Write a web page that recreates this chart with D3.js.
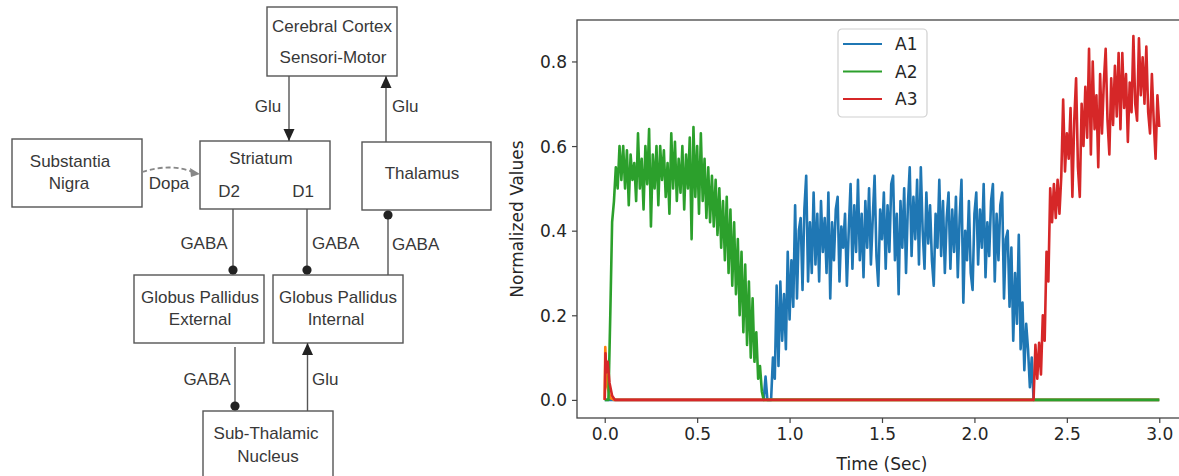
<!DOCTYPE html>
<html>
<head>
<meta charset="utf-8">
<script src="https://cdn.jsdelivr.net/npm/d3@7"></script>
<style>
  body { margin: 0; background: #fff; }
  svg { display: block; }
  .diag text { font-family: "Liberation Sans", Arial, sans-serif; font-size: 17px; fill: #383838; }
  .chart text { font-family: "DejaVu Sans", sans-serif; font-size: 17px; fill: #262626; }
</style>
</head>
<body>
<svg id="fig" width="1179" height="476"></svg>
<script>
// ---- chart data ----
var seriesNames = ['A1', 'A2', 'A3'];
var timeStep = 0.01;
var xTicks = [0, 0.5, 1.0, 1.5, 2.0, 2.5, 3.0];
var yTicks = [0, 0.2, 0.4, 0.6, 0.8];

// A1 (blue): quiet until ~0.9 s, noisy plateau, back to zero at ~2.32 s
var a1Lead = [[0, 0], [0.86, 0], [0.87, 0.055], [0.88, 0], [0.90, 0]];
var a1Start = 0.91;
var a1Values = [
  0.10, 0.05, 0.27, 0.08, 0.28, 0.14, 0.25, 0.12, 0.35, 0.19,
  0.33, 0.22, 0.46, 0.24, 0.40, 0.43, 0.26, 0.45, 0.53, 0.28,
  0.42, 0.30, 0.49, 0.32, 0.44, 0.28, 0.47, 0.35, 0.43, 0.30,
  0.49, 0.24, 0.42, 0.33, 0.45, 0.48, 0.28, 0.41, 0.36, 0.44,
  0.27, 0.40, 0.51, 0.31, 0.46, 0.35, 0.52, 0.33, 0.44, 0.29,
  0.47, 0.36, 0.50, 0.32, 0.43, 0.53, 0.34, 0.27, 0.45, 0.38,
  0.49, 0.31, 0.46, 0.35, 0.51, 0.53, 0.33, 0.44, 0.25, 0.47,
  0.36, 0.50, 0.30, 0.46, 0.55, 0.34, 0.48, 0.38, 0.52, 0.32,
  0.55, 0.40, 0.31, 0.49, 0.37, 0.46, 0.33, 0.27, 0.44, 0.36,
  0.52, 0.34, 0.47, 0.30, 0.43, 0.49, 0.31, 0.45, 0.35, 0.48,
  0.29, 0.43, 0.52, 0.23, 0.40, 0.33, 0.47, 0.30, 0.26, 0.44,
  0.49, 0.32, 0.45, 0.36, 0.51, 0.29, 0.42, 0.34, 0.47, 0.51,
  0.28, 0.44, 0.33, 0.46, 0.49, 0.24, 0.38, 0.40, 0.22, 0.36,
  0.14, 0.30, 0.18, 0.39, 0.12, 0.23, 0.07, 0.18, 0.12, 0.03,
  0.10, 0.00
];
var a1Tail = [[2.33, 0], [3.0, 0]];

// A2 (green): fast rise, noisy plateau, decays to zero at ~0.86 s
var a2Lead = [[0, 0], [0.02, 0]];
var a2Start = 0.03;
var a2Values = [
  0.20, 0.42, 0.47, 0.55, 0.50, 0.60, 0.52, 0.60, 0.50, 0.59,
  0.46, 0.58, 0.52, 0.56, 0.47, 0.63, 0.50, 0.57, 0.45, 0.60,
  0.51, 0.64, 0.41, 0.58, 0.50, 0.60, 0.46, 0.60, 0.52, 0.59,
  0.48, 0.56, 0.44, 0.63, 0.50, 0.61, 0.47, 0.57, 0.49, 0.60,
  0.45, 0.58, 0.50, 0.62, 0.38, 0.645, 0.48, 0.60, 0.44, 0.63,
  0.47, 0.57, 0.43, 0.55, 0.42, 0.53, 0.41, 0.52, 0.39, 0.50,
  0.36, 0.47, 0.33, 0.48, 0.30, 0.45, 0.27, 0.42, 0.25, 0.38,
  0.20, 0.35, 0.16, 0.32, 0.13, 0.28, 0.10, 0.24, 0.09, 0.16,
  0.05, 0.08, 0.02, 0.00
];
var a2Tail = [[0.87, 0], [3.0, 0]];

// A3 (red): short spike at start, zero, then rises from ~2.33 s
var a3Lead = [[0, 0], [0.004, 0.11], [0.009, 0.065], [0.016, 0.09], [0.026, 0.04],
              [0.04, 0.01], [0.055, 0], [2.32, 0]];
var a3Start = 2.33;
var a3Values = [
  0.13, 0.05, 0.135, 0.06, 0.20, 0.14, 0.35, 0.28, 0.50, 0.42,
  0.51, 0.43, 0.52, 0.44, 0.53, 0.71, 0.54, 0.63, 0.57, 0.69,
  0.48, 0.66, 0.76, 0.55, 0.48, 0.70, 0.60, 0.74, 0.62, 0.83,
  0.58, 0.80, 0.64, 0.72, 0.55, 0.77, 0.63, 0.75, 0.83, 0.66,
  0.58, 0.76, 0.65, 0.79, 0.67, 0.82, 0.64, 0.82, 0.69, 0.77,
  0.61, 0.75, 0.68, 0.86, 0.70, 0.66, 0.855, 0.72, 0.81, 0.70,
  0.835, 0.68, 0.63, 0.77, 0.66, 0.57, 0.72, 0.645
];
var a3Tail = [];

// unlabeled orange trace, only a tiny spike at t=0
var extraTrace = [[0, 0], [0.003, 0.125], [0.008, 0.07], [0.015, 0.03], [0.03, 0.005], [0.05, 0], [3.0, 0]];

function buildSeries(lead, start, values, tail) {
  var pts = lead.slice();
  values.forEach(function (v, i) { pts.push([start + i * timeStep, v]); });
  return pts.concat(tail);
}

var a1 = buildSeries(a1Lead, a1Start, a1Values, a1Tail);
var a2 = buildSeries(a2Lead, a2Start, a2Values, a2Tail);
var a3 = buildSeries(a3Lead, a3Start, a3Values, a3Tail);

var svg = d3.select('#fig');

// ---------------- block diagram ----------------
var boxes = [
  { x: 267, y: 7,   w: 130, h: 69, lines: [['Cerebral Cortex', 332, 32], ['Sensori-Motor', 333, 63]] },
  { x: 12,  y: 139, w: 130, h: 68, lines: [['Substantia', 70, 167], ['Nigra', 69, 189]] },
  { x: 200, y: 141, w: 130, h: 68, lines: [['Striatum', 261, 164], ['D2', 229, 197], ['D1', 303, 197]] },
  { x: 362, y: 142, w: 129, h: 68, lines: [['Thalamus', 422, 179]] },
  { x: 134, y: 275, w: 130, h: 68, lines: [['Globus Pallidus', 200, 303], ['External', 200, 325]] },
  { x: 273, y: 275, w: 130, h: 68, lines: [['Globus Pallidus', 338, 303], ['Internal', 336, 325]] },
  { x: 203, y: 411, w: 130, h: 80, lines: [['Sub-Thalamic', 266, 439], ['Nucleus', 268, 462]] }
];

var diag = svg.append('g').attr('class', 'diag');

diag.selectAll('rect.box').data(boxes).enter().append('rect')
  .attr('class', 'box')
  .attr('x', function (d) { return d.x; })
  .attr('y', function (d) { return d.y; })
  .attr('width', function (d) { return d.w; })
  .attr('height', function (d) { return d.h; })
  .attr('fill', 'none')
  .attr('stroke', '#555')
  .attr('stroke-width', 1.4);

boxes.forEach(function (b) {
  b.lines.forEach(function (l) {
    diag.append('text').attr('x', l[1]).attr('y', l[2])
      .attr('text-anchor', 'middle').text(l[0]);
  });
});

// connectors: [x, y1, y2, end type] ; end drawn at y2
var links = [
  [289, 76, 141, 'arrow'],
  [386, 142, 76, 'arrow'],
  [233, 209, 270, 'dot'],
  [307, 209, 270, 'dot'],
  [388, 275, 215, 'dot'],
  [235, 347, 406, 'dot'],
  [307.5, 411, 343, 'arrow']
];

links.forEach(function (k) {
  var x = k[0], y1 = k[1], y2 = k[2];
  diag.append('line').attr('x1', x).attr('x2', x).attr('y1', y1).attr('y2', y2)
    .attr('stroke', '#555').attr('stroke-width', 1.4);
  if (k[3] === 'arrow') {
    var dir = y2 > y1 ? -1 : 1;
    diag.append('path')
      .attr('d', 'M' + x + ',' + y2 + 'L' + (x - 5.5) + ',' + (y2 + dir * 12) + 'L' + (x + 5.5) + ',' + (y2 + dir * 12) + 'Z')
      .attr('fill', '#222');
  } else {
    diag.append('circle').attr('cx', x).attr('cy', y2).attr('r', 4.6).attr('fill', '#222');
  }
});

var linkLabels = [
  ['Glu', 268, 112, 'middle'],
  ['Glu', 392, 112, 'start'],
  ['Dopa', 169, 189, 'middle'],
  ['GABA', 204, 249, 'middle'],
  ['GABA', 312, 249, 'start'],
  ['GABA', 392, 250, 'start'],
  ['GABA', 207, 385, 'middle'],
  ['Glu', 312, 385, 'start']
];
linkLabels.forEach(function (l) {
  diag.append('text').attr('x', l[1]).attr('y', l[2]).attr('text-anchor', l[3]).text(l[0]);
});

// dashed dopamine arrow
diag.append('path')
  .attr('d', 'M142,172 Q170,163 193,172')
  .attr('fill', 'none').attr('stroke', '#888').attr('stroke-width', 1.8)
  .attr('stroke-dasharray', '5,3');
diag.append('path')
  .attr('d', 'M200,174 L190,168 L191,177 Z')
  .attr('fill', '#888');

// ---------------- line chart ----------------
var chart = svg.append('g').attr('class', 'chart');

var x = d3.scaleLinear().domain([-0.15, 3.15]).range([577, 1187]);
var y = d3.scaleLinear().domain([-0.0428, 0.898]).range([418, 20]);

var line = d3.line()
  .x(function (d) { return x(d[0]); })
  .y(function (d) { return y(d[1]); });

var traces = [
  { data: a1, color: '#1f77b4' },
  { data: extraTrace, color: '#ff7f0e' },
  { data: a2, color: '#2ca02c' },
  { data: a3, color: '#d62728' }
];

chart.selectAll('path.trace').data(traces).enter().append('path')
  .attr('class', 'trace')
  .attr('d', function (d) { return line(d.data); })
  .attr('fill', 'none')
  .attr('stroke', function (d) { return d.color; })
  .attr('stroke-width', 2.6)
  .attr('stroke-linejoin', 'round');

// spines
chart.append('rect')
  .attr('x', x(-0.15)).attr('y', y(0.898))
  .attr('width', x(3.15) - x(-0.15)).attr('height', y(-0.0428) - y(0.898))
  .attr('fill', 'none').attr('stroke', '#444').attr('stroke-width', 1.3);

var fmt = d3.format('.1f');

var xAxis = chart.append('g').attr('transform', 'translate(0,' + y(-0.0428) + ')')
  .call(d3.axisBottom(x).tickValues(xTicks).tickFormat(fmt).tickSize(5).tickPadding(5));
var yAxis = chart.append('g').attr('transform', 'translate(' + x(-0.15) + ',0)')
  .call(d3.axisLeft(y).tickValues(yTicks).tickFormat(fmt).tickSize(5).tickPadding(5));

[xAxis, yAxis].forEach(function (ax) {
  ax.select('.domain').remove();
  ax.selectAll('.tick line').attr('stroke', '#444').attr('stroke-width', 1.2);
  ax.selectAll('.tick text').attr('font-family', null).attr('font-size', null).attr('fill', '#262626');
  ax.attr('font-family', null).attr('font-size', null);
});
yAxis.selectAll('.tick text').attr('dy', '0.35em');

chart.append('text')
  .attr('x', (x(-0.15) + x(3.15)) / 2).attr('y', 470)
  .attr('text-anchor', 'middle').text('Time (Sec)');

chart.append('text')
  .attr('transform', 'translate(523,' + ((y(-0.0428) + y(0.898)) / 2) + ') rotate(-90)')
  .attr('text-anchor', 'middle').text('Normalized Values');

// legend
var legend = chart.append('g').attr('transform', 'translate(838,29)');
legend.append('rect')
  .attr('width', 89).attr('height', 88).attr('rx', 4)
  .attr('fill', '#fff').attr('fill-opacity', 0.8)
  .attr('stroke', '#d0d0d0').attr('stroke-width', 1.2);

var legendColors = ['#1f77b4', '#2ca02c', '#d62728'];
seriesNames.forEach(function (name, i) {
  var ly = 15 + i * 27.5;
  legend.append('line').attr('x1', 5).attr('x2', 44).attr('y1', ly).attr('y2', ly)
    .attr('stroke', legendColors[i]).attr('stroke-width', 2);
  legend.append('text').attr('x', 57).attr('y', ly + 6).text(name);
});
</script>
</body>
</html>
